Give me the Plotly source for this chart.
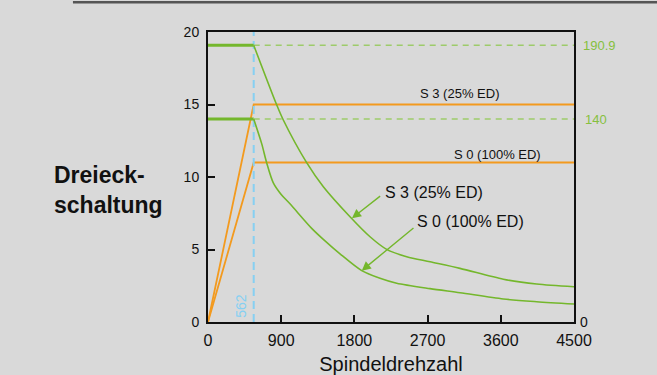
import plotly.graph_objects as go

# ---- data ----
n_corner = 562            # rpm, corner speed
n_max = 4500
power_s3 = 15.0           # kW (S 3 25% ED)
power_s0 = 11.0           # kW (S 0 100% ED)
torque_s3 = 190.9         # Nm
torque_s0 = 140.0         # Nm

# torque curves beyond corner speed, Nm
rpm_s3 = [562, 845, 926, 1213, 1418, 1746, 1992, 2197, 2443, 2730, 3098, 3631, 4041, 4500]
tq_s3 = [190.9, 149.7, 139.3, 109.9, 93.3, 72.6, 58.8, 50.1, 45.0, 41.5, 37.0, 29.5, 26.2, 24.3]
rpm_s0 = [562, 660, 721, 803, 900, 1008, 1275, 1418, 1623, 1890, 2115, 2320, 2730, 3098, 3631, 4041, 4500]
tq_s0 = [140.0, 123.0, 109.9, 96.0, 88.0, 81.5, 64.6, 57.0, 47.0, 35.4, 30.1, 26.7, 23.0, 20.2, 15.9, 14.0, 12.4]

x_ticks = [0, 900, 1800, 2700, 3600, 4500]
y_ticks = [0, 5, 10, 15, 20]

ORANGE = "#f39a1e"
GREEN = "#74b72c"
GREEN_D = "#9dcb6a"
GREEN_T = "#86c03f"
BLUE = "#86d0f2"
BG = "#d9d9d9"

fig = go.Figure()

# power lines (orange)
fig.add_trace(go.Scatter(x=[0, n_corner, n_max], y=[0, power_s3, power_s3], mode="lines",
                         line=dict(color=ORANGE, width=1.8), hoverinfo="skip"))
fig.add_trace(go.Scatter(x=[0, n_corner, n_max], y=[0, power_s0, power_s0], mode="lines",
                         line=dict(color=ORANGE, width=1.8), hoverinfo="skip"))

# torque constant parts (solid) and dashed references
for tq in (torque_s3, torque_s0):
    fig.add_trace(go.Scatter(x=[0, n_corner], y=[tq, tq], mode="lines", yaxis="y2",
                             line=dict(color=GREEN, width=3), hoverinfo="skip"))
    fig.add_trace(go.Scatter(x=[n_corner, n_max], y=[tq, tq], mode="lines", yaxis="y2",
                             line=dict(color=GREEN_D, width=1.5, dash="6px,5px"), hoverinfo="skip"))

# torque curves
fig.add_trace(go.Scatter(x=rpm_s3, y=tq_s3, mode="lines", yaxis="y2", line_shape="spline",
                         line=dict(color=GREEN, width=1.6, smoothing=0.8), hoverinfo="skip"))
fig.add_trace(go.Scatter(x=rpm_s0, y=tq_s0, mode="lines", yaxis="y2", line_shape="spline",
                         line=dict(color=GREEN, width=1.6, smoothing=0.8), hoverinfo="skip"))

# corner speed dashed line
fig.add_trace(go.Scatter(x=[n_corner, n_corner], y=[0, 20], mode="lines",
                         line=dict(color=BLUE, width=2, dash="8px,5px"), hoverinfo="skip"))

font = "Liberation Sans, Arial, sans-serif"

annotations = [
    dict(x=3092, y=power_s3, xref="x", yref="y", text="S 3 (25% ED)",
         showarrow=False, yanchor="bottom", yshift=2, font=dict(size=13, color="#111")),
    dict(x=3563, y=power_s0, xref="x", yref="y", text="S 0 (100% ED)",
         showarrow=False, yanchor="bottom", yshift=-1, font=dict(size=13, color="#111")),
    dict(x=n_corner, y=0, xref="x", yref="y", text="562", textangle=-90, showarrow=False,
         xanchor="right", yanchor="bottom", xshift=-3, yshift=2, font=dict(size=14, color=BLUE)),
    # arrow labels
    dict(x=2150, y=8.9, xref="x", yref="y", text="S 3 (25% ED)", showarrow=False,
         xanchor="left", yanchor="middle", font=dict(size=16, color="#111")),
    dict(x=2540, y=6.95, xref="x", yref="y", text="S 0 (100% ED)", showarrow=False,
         xanchor="left", yanchor="middle", font=dict(size=16, color="#111")),
    dict(x=1770, y=71.6, xref="x", yref="y2", ax=2135, ay=87.6, axref="x", ayref="y2",
         text="", showarrow=True, arrowhead=2, arrowsize=1.3, arrowwidth=1.4, arrowcolor=GREEN),
    dict(x=1890, y=35.4, xref="x", yref="y2", ax=2545, ay=65.7, axref="x", ayref="y2",
         text="", showarrow=True, arrowhead=2, arrowsize=1.3, arrowwidth=1.4, arrowcolor=GREEN),
    # right side green labels
    dict(x=1, y=torque_s3, xref="paper", yref="y2", text="190.9", showarrow=False,
         xanchor="left", xshift=7, font=dict(size=13, color=GREEN_T)),
    dict(x=1, y=torque_s0, xref="paper", yref="y2", text="140", showarrow=False,
         xanchor="left", xshift=9, font=dict(size=13, color=GREEN_T)),
    # left label
    dict(x=-0.426, y=0.455, xref="paper", yref="paper", text="<b>Dreieck-</b><br><b>schaltung</b>",
         showarrow=False, xanchor="left", yanchor="middle", align="left",
         font=dict(size=23, color="#111", family="Liberation Sans, Arial, sans-serif")),
]

fig.update_layout(
    width=657, height=375,
    margin=dict(l=208, r=83, t=32, b=53),
    paper_bgcolor=BG, plot_bgcolor=BG,
    showlegend=False,
    font=dict(family=font, color="#111"),
    xaxis=dict(range=[0, n_max], tickvals=x_ticks, ticks="inside", ticklen=7, tickwidth=2,
               tickcolor="#111", showline=True, linecolor="#111", linewidth=2, mirror=True,
               showgrid=False, zeroline=False, tickfont=dict(size=16), ticklabelstandoff=3,
               automargin=False,
               title=dict(text="Spindeldrehzahl", font=dict(size=20), standoff=9)),
    yaxis=dict(range=[0, 20], tickvals=y_ticks, ticks="inside", ticklen=7, tickwidth=2,
               tickcolor="#111", showline=True, linecolor="#111", linewidth=2, mirror=True,
               showgrid=False, zeroline=False, tickfont=dict(size=14), ticklabelstandoff=4,
               automargin=False),
    yaxis2=dict(range=[0, 200], overlaying="y", side="right", tickvals=[0], ticks="",
                showline=False, showgrid=False, zeroline=False, tickfont=dict(size=14),
                ticklabelstandoff=5, automargin=False),
    annotations=annotations,
    shapes=[dict(type="line", xref="paper", yref="paper", x0=-0.369, x1=1.23, y0=1.103, y1=1.103,
                 line=dict(color="#555", width=2.5))],
)

fig.write_html("out.html", config={"displayModeBar": False},
               post_script="document.body.style.margin='0';")
